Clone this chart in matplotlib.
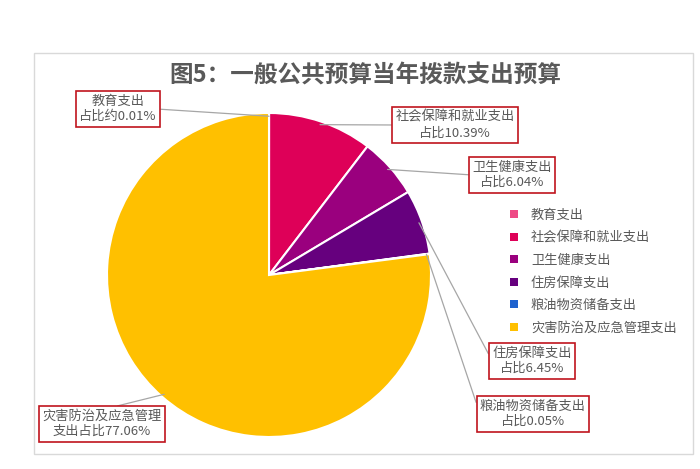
"""
一般公共预算当年拨款支出预算 pie chart
"""
import numpy as np
import matplotlib
matplotlib.use("Agg")
import matplotlib.pyplot as plt
from matplotlib.patches import Rectangle, Patch

plt.rcParams['font.family'] = ['Noto Sans CJK SC', 'DejaVu Sans']

# data
names = ["教育支出", "社会保障和就业支出", "卫生健康支出",
         "住房保障支出", "粮油物资储备支出", "灾害防治及应急管理支出"]
shares = [0.01, 10.39, 6.04, 6.45, 0.05, 77.06]
label_texts = ["教育支出\n占比约0.01%", "社会保障和就业支出\n占比10.39%",
               "卫生健康支出\n占比6.04%", "住房保障支出\n占比6.45%",
               "粮油物资储备支出\n占比0.05%", "灾害防治及应急管理\n支出占比77.06%"]
colors = ["#EE4A86", "#DE0058", "#9A007E", "#66007E", "#1E62CE", "#FFC000"]

# label box centres (figure pixels from top-left) and where the leader meets the box
label_pos = [(118, 109), (455, 125), (512, 175), (532, 361), (533, 414), (102, 424)]
label_rel = [(1, 0.5), (0, 0.5), (0, 0.5), (0, 0.5), (0, 0.5), (0.5, 1)]

W, H = 700, 469
fig = plt.figure(figsize=(7, 4.69), dpi=100)

# chart frame
fig.add_artist(Rectangle((34 / W, 15 / H), 659 / W, 401 / H, transform=fig.transFigure,
                         fill=False, edgecolor="#D9D9D9", linewidth=1))

fig.text(365 / W, 1 - 75 / H, "图5：一般公共预算当年拨款支出预算", ha="center", va="center",
         fontsize=17, fontweight="bold", color="#595959")

# pie centre (269, 275), radius 162 px
cx, cy, r = 269, 275, 162
ax = fig.add_axes([(cx - r) / W, (H - cy - r) / H, 2 * r / W, 2 * r / H])
wedges, _ = ax.pie(shares, colors=colors, startangle=90, counterclock=False, radius=1,
                   wedgeprops=dict(edgecolor="white", linewidth=1.5))
ax.set_xlim(-1, 1)
ax.set_ylim(-1, 1)
ax.set_aspect("equal")
ax.axis("off")

for w, txt, (px, py), rel in zip(wedges, label_texts, label_pos, label_rel):
    ang = np.deg2rad((w.theta1 + w.theta2) / 2.0)
    x0 = np.cos(ang) * 0.98
    y0 = np.sin(ang) * 0.98
    ax.annotate(txt, xy=(x0, y0), xycoords="data",
                xytext=(px, H - py), textcoords="figure pixels",
                ha="center", va="center", fontsize=9.5, color="#595959",
                linespacing=1.25, annotation_clip=False,
                bbox=dict(boxstyle="square,pad=0.25", fc="white", ec="#C0141E", lw=1.2),
                arrowprops=dict(arrowstyle="-", color="#A6A6A6", lw=0.9,
                                shrinkA=0, shrinkB=0, relpos=rel))

handles = [Patch(facecolor=c, edgecolor="none") for c in colors]
fig.legend(handles, names, loc="upper left", bbox_to_anchor=(498 / W, 1 - 197 / H),
           frameon=False, fontsize=9.5, handlelength=0.6, handleheight=0.6,
           handletextpad=1.0, labelspacing=0.72, labelcolor="#595959")

fig.savefig("out.png", dpi=100, facecolor="white")
